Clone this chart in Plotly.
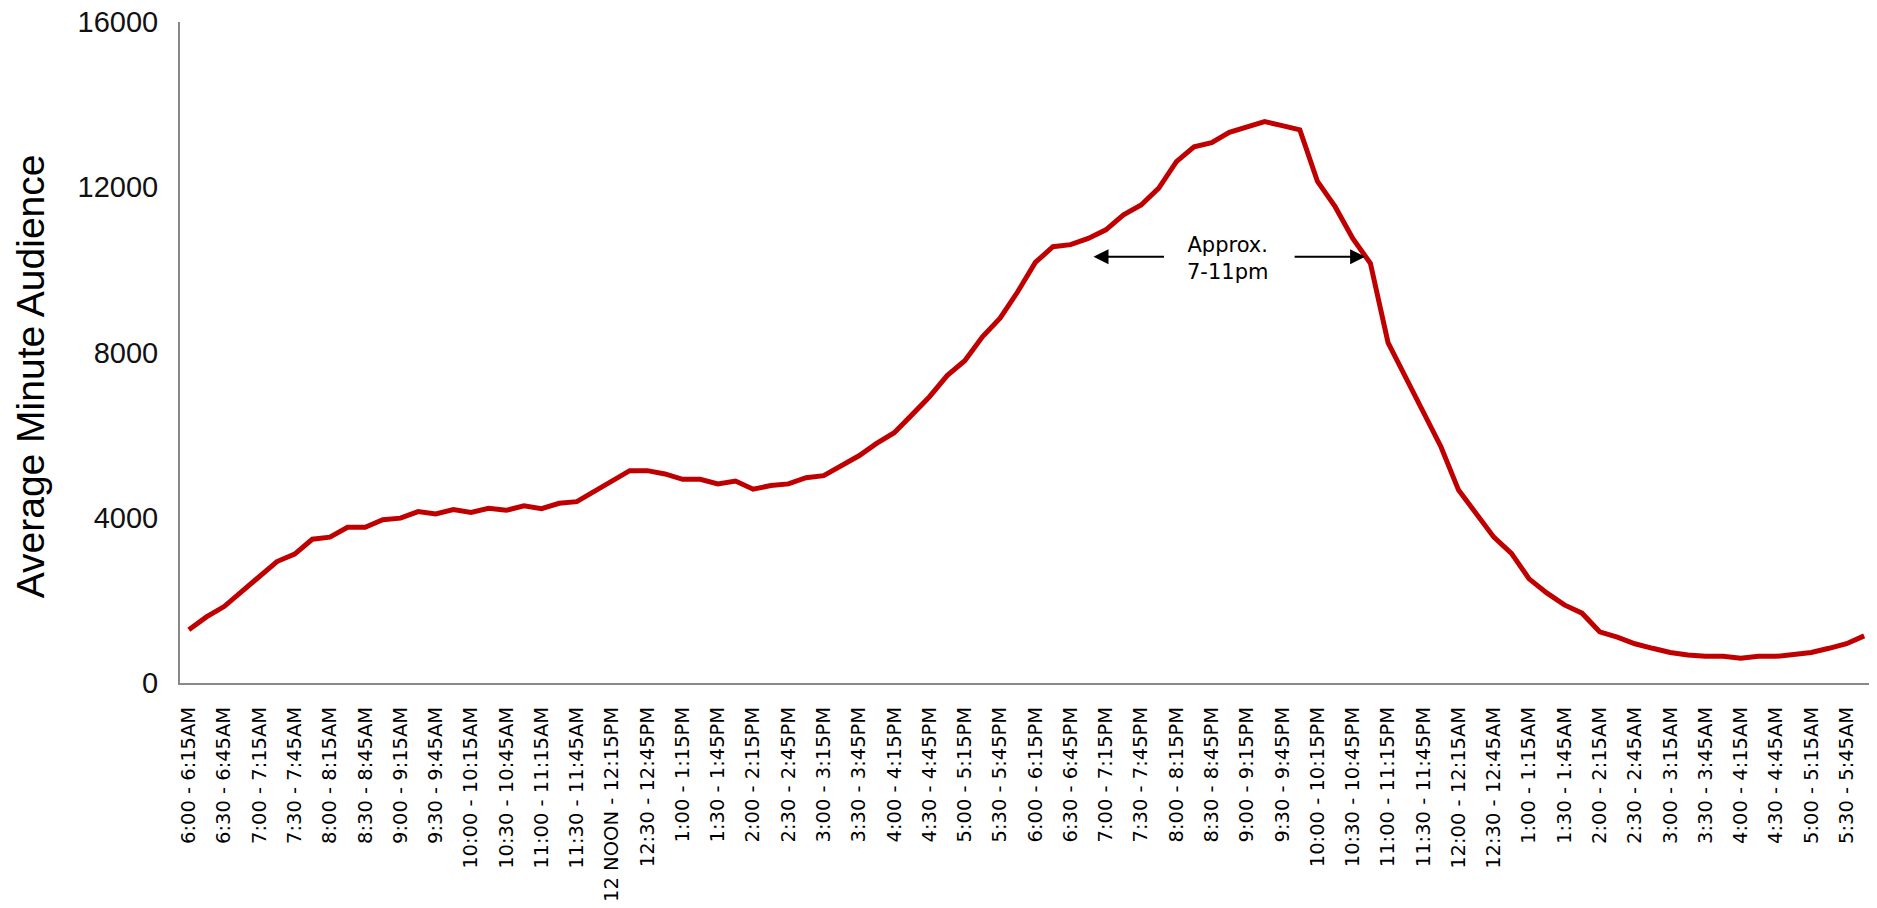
import plotly.graph_objects as go

# 96 quarter-hour slots, 6:00AM to 6:00AM next day
time_slots = [
    "6:00 - 6:15AM", "6:15 - 6:30AM", "6:30 - 6:45AM", "6:45 - 7:00AM",
    "7:00 - 7:15AM", "7:15 - 7:30AM", "7:30 - 7:45AM", "7:45 - 8:00AM",
    "8:00 - 8:15AM", "8:15 - 8:30AM", "8:30 - 8:45AM", "8:45 - 9:00AM",
    "9:00 - 9:15AM", "9:15 - 9:30AM", "9:30 - 9:45AM", "9:45 - 10:00AM",
    "10:00 - 10:15AM", "10:15 - 10:30AM", "10:30 - 10:45AM", "10:45 - 11:00AM",
    "11:00 - 11:15AM", "11:15 - 11:30AM", "11:30 - 11:45AM", "11:45 - 12 NOON",
    "12 NOON - 12:15PM", "12:15 - 12:30PM", "12:30 - 12:45PM", "12:45 - 1:00PM",
    "1:00 - 1:15PM", "1:15 - 1:30PM", "1:30 - 1:45PM", "1:45 - 2:00PM",
    "2:00 - 2:15PM", "2:15 - 2:30PM", "2:30 - 2:45PM", "2:45 - 3:00PM",
    "3:00 - 3:15PM", "3:15 - 3:30PM", "3:30 - 3:45PM", "3:45 - 4:00PM",
    "4:00 - 4:15PM", "4:15 - 4:30PM", "4:30 - 4:45PM", "4:45 - 5:00PM",
    "5:00 - 5:15PM", "5:15 - 5:30PM", "5:30 - 5:45PM", "5:45 - 6:00PM",
    "6:00 - 6:15PM", "6:15 - 6:30PM", "6:30 - 6:45PM", "6:45 - 7:00PM",
    "7:00 - 7:15PM", "7:15 - 7:30PM", "7:30 - 7:45PM", "7:45 - 8:00PM",
    "8:00 - 8:15PM", "8:15 - 8:30PM", "8:30 - 8:45PM", "8:45 - 9:00PM",
    "9:00 - 9:15PM", "9:15 - 9:30PM", "9:30 - 9:45PM", "9:45 - 10:00PM",
    "10:00 - 10:15PM", "10:15 - 10:30PM", "10:30 - 10:45PM", "10:45 - 11:00PM",
    "11:00 - 11:15PM", "11:15 - 11:30PM", "11:30 - 11:45PM", "11:45 - 12 MIDNIGHT",
    "12:00 - 12:15AM", "12:15 - 12:30AM", "12:30 - 12:45AM", "12:45 - 1:00AM",
    "1:00 - 1:15AM", "1:15 - 1:30AM", "1:30 - 1:45AM", "1:45 - 2:00AM",
    "2:00 - 2:15AM", "2:15 - 2:30AM", "2:30 - 2:45AM", "2:45 - 3:00AM",
    "3:00 - 3:15AM", "3:15 - 3:30AM", "3:30 - 3:45AM", "3:45 - 4:00AM",
    "4:00 - 4:15AM", "4:15 - 4:30AM", "4:30 - 4:45AM", "4:45 - 5:00AM",
    "5:00 - 5:15AM", "5:15 - 5:30AM", "5:30 - 5:45AM", "5:45 - 6:00AM",
]

# Tick labels shown on the axis (every other slot)
shown_labels = [
    "6:00 - 6:15AM", "6:30 - 6:45AM", "7:00 - 7:15AM", "7:30 - 7:45AM",
    "8:00 - 8:15AM", "8:30 - 8:45AM", "9:00 - 9:15AM", "9:30 - 9:45AM",
    "10:00 - 10:15AM", "10:30 - 10:45AM", "11:00 - 11:15AM", "11:30 - 11:45AM",
    "12 NOON - 12:15PM", "12:30 - 12:45PM", "1:00 - 1:15PM", "1:30 - 1:45PM",
    "2:00 - 2:15PM", "2:30 - 2:45PM", "3:00 - 3:15PM", "3:30 - 3:45PM",
    "4:00 - 4:15PM", "4:30 - 4:45PM", "5:00 - 5:15PM", "5:30 - 5:45PM",
    "6:00 - 6:15PM", "6:30 - 6:45PM", "7:00 - 7:15PM", "7:30 - 7:45PM",
    "8:00 - 8:15PM", "8:30 - 8:45PM", "9:00 - 9:15PM", "9:30 - 9:45PM",
    "10:00 - 10:15PM", "10:30 - 10:45PM", "11:00 - 11:15PM", "11:30 - 11:45PM",
    "12:00 - 12:15AM", "12:30 - 12:45AM", "1:00 - 1:15AM", "1:30 - 1:45AM",
    "2:00 - 2:15AM", "2:30 - 2:45AM", "3:00 - 3:15AM", "3:30 - 3:45AM",
    "4:00 - 4:15AM", "4:30 - 4:45AM", "5:00 - 5:15AM", "5:30 - 5:45AM",
]

audience = [
    1290, 1600, 1850, 2210, 2570, 2940, 3120, 3480,
    3530, 3770, 3770, 3950, 3990, 4150, 4090, 4200,
    4130, 4230, 4180, 4290, 4220, 4350, 4390, 4630,
    4880, 5140, 5140, 5060, 4930, 4930, 4820, 4890,
    4690, 4780, 4820, 4970, 5020, 5250, 5500, 5800,
    6060, 6490, 6930, 7440, 7800, 8380, 8830, 9470,
    10180, 10560, 10610, 10760, 10970, 11330, 11570, 11980,
    12620, 12980, 13080, 13330, 13450, 13590, 13490, 13390,
    12140, 11530, 10760, 10160, 8240, 7400, 6570, 5720,
    4670, 4110, 3530, 3140, 2520, 2180, 1890, 1690,
    1240, 1110, 950, 840, 740, 680, 645, 645,
    600, 645, 645, 690, 740, 840, 950, 1140,
]

y_ticks = [0, 4000, 8000, 12000, 16000]
y_title = "Average Minute Audience"
note_text = "Approx.<br>7-11pm"

# annotation anchor positions (axis units: slot index, audience)
note_pos = (58.9, 10264)
arrow_left_tip = (51.3, 10320)
arrow_right_tip = (66.7, 10320)

fig = go.Figure()
fig.add_trace(go.Scatter(
    x=time_slots, y=audience, mode="lines",
    line=dict(color="#C00000", width=5),
    hoverinfo="x+y", showlegend=False,
))

# page body adds an 8px margin; size the figure so it fits the window exactly
fig.update_layout(
    width=1869, height=900, autosize=False,
    margin=dict(l=172, r=4, t=14, b=225),
    plot_bgcolor="white", paper_bgcolor="white",
    xaxis=dict(
        type="category",
        categoryorder="array", categoryarray=time_slots,
        range=[-0.5, len(time_slots) - 0.5],
        tickmode="array", tickvals=shown_labels, ticktext=shown_labels,
        tickangle=-90,
        tickfont=dict(family="DejaVu Sans", size=19.5, color="#000000"),
        showgrid=False, zeroline=False,
        showline=True, linecolor="#888888", linewidth=2,
        ticks="", ticklabelstandoff=14, automargin=False,
        ticklabeloverflow="allow",
    ),
    yaxis=dict(
        range=[0, 16000],
        tickmode="array", tickvals=y_ticks,
        ticktext=[str(v) for v in y_ticks],
        tickfont=dict(family="Liberation Sans", size=29, color="#111111"),
        showgrid=False, zeroline=False,
        showline=True, linecolor="#888888", linewidth=2,
        ticks="", ticklabelstandoff=14, automargin=False,
        ticklabeloverflow="allow",
    ),
)

fig.add_annotation(
    xref="paper", yref="paper", x=-0.0886, y=0.464,
    text=y_title, textangle=-90, showarrow=False,
    xanchor="center", yanchor="middle",
    font=dict(family="Liberation Sans", size=39, color="#000000"),
)

fig.add_annotation(
    xref="x", yref="y", x=note_pos[0], y=note_pos[1],
    text=note_text, showarrow=False, align="center",
    xanchor="center", yanchor="middle",
    font=dict(family="DejaVu Sans", size=21, color="#000000"),
)

for tip, ax in ((arrow_left_tip, 72), (arrow_right_tip, -72)):
    fig.add_annotation(
        xref="x", yref="y", x=tip[0], y=tip[1], text="",
        showarrow=True, arrowhead=2, arrowsize=1.5, arrowwidth=2,
        arrowcolor="#000000", ax=ax, ay=0, standoff=0,
    )

fig.write_html("out.html")
